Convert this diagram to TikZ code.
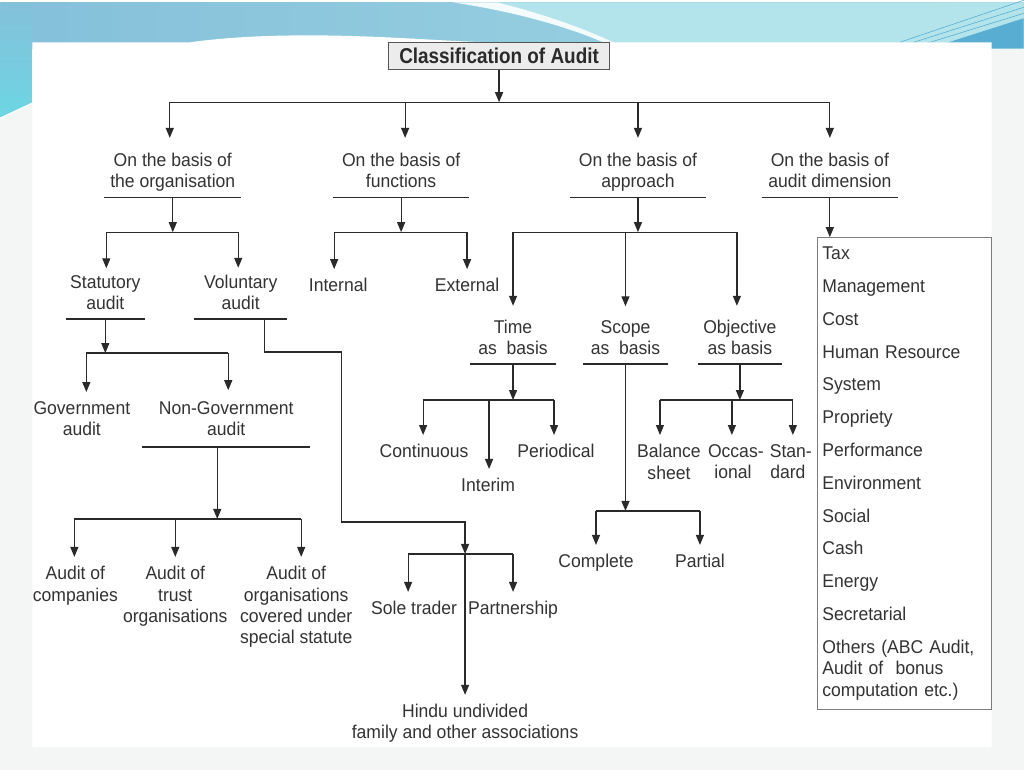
\documentclass[tikz,border=0pt]{standalone}
\usepackage{fontspec}
\setmainfont{Liberation Sans}[FakeStretch=0.95]
\newfontfamily\headfont{Liberation Sans}[FakeStretch=0.88]
\usetikzlibrary{arrows.meta,positioning}

\definecolor{ink}{HTML}{2A2A2A}
\definecolor{txt}{HTML}{333333}
\definecolor{frame}{HTML}{555555}
\definecolor{listframe}{HTML}{7C7C7C}
\definecolor{headfill}{HTML}{ECECEC}
\definecolor{pagebg}{HTML}{F4F5F5}
\definecolor{skyA}{HTML}{84C0DA}
\definecolor{skyB}{HTML}{A2D7E4}
\definecolor{skyC}{HTML}{B4E4EB}
\definecolor{skyD}{HTML}{58AED2}
\definecolor{cyanL}{HTML}{6DD6E2}

\tikzset{
  lbl/.style={font=\fontsize{18.5}{21.5}\selectfont, text=txt, align=center,
    inner xsep=0pt, inner ysep=9pt},
  basis/.style={lbl, anchor=south, text depth=0pt},
  leaf/.style={lbl, anchor=north},
  headbox/.style={draw=frame, fill=headfill, line width=1pt, minimum width=222pt,
    minimum height=27pt, inner sep=0pt, text=ink,
    font=\headfont\bfseries\fontsize{21.5}{22}\selectfont},
  dimlist/.style={draw=listframe, line width=1.2pt, anchor=north west,
    text width=164pt, inner xsep=5pt, inner ysep=0pt, minimum height=472pt,
    align=left, text=txt, font=\fontsize{18.5}{21.5}\selectfont},
  wire/.style={draw=ink, line width=1.2pt},
  arr/.style={wire, -{Triangle[length=10pt,width=8pt]}},
}

\begin{document}
\begin{tikzpicture}[x=1pt,y=-1pt]
  % backdrop
  \fill[pagebg] (0,0) rectangle (1024,768);
  \shade[left color=skyA, right color=skyB] (0,0) rectangle (1024,46);
  \fill[skyC] (497,0) .. controls (545,12) and (590,28) .. (626,46) -- (1024,46) -- (1024,0) -- cycle;
  \fill[white!85!skyC] (452,0) .. controls (520,10) and (580,28) .. (616,46) -- (626,46)
    .. controls (590,28) and (545,12) .. (497,0) -- cycle;
  \shade[top color=skyA, bottom color=cyanL] (0,0) -- (32,0) -- (32,100) -- (0,115) -- cycle;
  \draw[white, line width=0.8pt] (0,116) -- (32,101);
  \fill[skyD] (930,46) -- (1024,16) -- (1024,46) -- cycle;
  \draw[skyD, line width=0.6pt] (900,40) -- (1024,-2) (914,40) -- (1024,5) (924,42) -- (1024,11);
  \fill[white] (32,40) -- (190,40) .. controls (240,33) and (300,32) .. (360,34)
    .. controls (420,36) and (460,40) .. (500,40) -- (992,40) -- (992,745) -- (32,745) -- cycle;

  \node[headbox] (head) at (499,53.5) {Classification of Audit};

  \node[basis, minimum width=137pt] (org) at (172.5,195) {On the basis of\\the organisation};
  \node[basis, minimum width=136pt] (fun) at (401,195) {On the basis of\\functions};
  \node[basis, minimum width=136pt] (app) at (638,195) {On the basis of\\approach};
  \node[basis, minimum width=136pt] (dim) at (830,195) {On the basis of\\audit dimension};

  \node[basis, minimum width=78pt] (stat) at (105,317) {Statutory\\audit};
  \node[basis, minimum width=93pt] (vol) at (240.5,317) {Voluntary\\audit};
  \node[leaf] (int) at (338,267) {Internal};
  \node[leaf] (ext) at (467,267) {External};
  \node[basis, minimum width=85pt] (time) at (513,362) {Time\\as\ \ basis};
  \node[basis, minimum width=85pt] (scope) at (625.5,362) {Scope\\as\ \ basis};
  \node[basis, minimum width=84pt] (obj) at (740,362) {Objective\\as basis};

  \node[leaf] (gov) at (81.5,390) {Government\\audit};
  \node[basis, minimum width=168pt, inner ysep=11pt] (nongov) at (226,445) {Non-Government\\audit};

  \node[leaf] (cont) at (424,433) {Continuous};
  \node[leaf] (inter) at (488,467) {Interim};
  \node[leaf] (peri) at (556,433) {Periodical};
  \node[leaf] (bal) at (669,433) {Balance\\sheet};
  \node[leaf] (occ) at (733,433) {Occas\rlap{-}\\ional};
  \node[leaf] (std) at (788,433) {Stan\rlap{-}\\dard};
  \node[leaf] (compl) at (596,543) {Complete};
  \node[leaf] (partial) at (700,543) {Partial};

  \node[leaf] (comp) at (75,555) {Audit of\\companies};
  \node[leaf] (trust) at (175,555) {Audit of\\trust\\organisations};
  \node[leaf] (spec) at (296,555) {Audit of\\organisations\\covered under\\special statute};
  \node[leaf] (sole) at (414,590) {Sole trader};
  \node[leaf] (part) at (513,590) {Partnership};
  \node[leaf] (huf) at (465,693) {Hindu undivided\\family and other associations};

  \node[dimlist] (list) at (817,235) {Tax\\[11.3pt]Management\\[11.3pt]Cost\\[11.3pt]Human Resource\\[11.3pt]System\\[11.3pt]Propriety\\[11.3pt]Performance\\[11.3pt]Environment\\[11.3pt]Social\\[11.3pt]Cash\\[11.3pt]Energy\\[11.3pt]Secretarial\\[11.3pt]Others (ABC Audit,\\Audit of\ \ bonus\\computation etc.)};

  \foreach \n in {org,fun,app,dim,stat,vol,time,scope,obj,nongov}
    \draw[wire] (\n.south west) -- (\n.south east);

  % bus levels
  \coordinate (y0) at (0,100);
  \coordinate (y1) at (0,230);
  \coordinate (y2) at (0,351);
  \coordinate (y5) at (0,398);
  \coordinate (y6) at (0,509);
  \coordinate (y3) at (0,517);
  \coordinate (y4) at (0,552);

  \draw[arr] (head) -- (head |- y0);
  \draw[wire] ([xshift=-3pt]org.north |- y0) -- (dim.north |- y0);
  \foreach \n/\d in {org/-3,fun/4,app/0,dim/0}
    \draw[arr] ([xshift=\d pt]\n.north |- y0) -- ([xshift=\d pt,yshift=6pt]\n.north);

  \draw[arr] (org.south) -- (org.south |- y1);
  \draw[wire] ([xshift=1pt]stat.north |- y1) -- ([xshift=-2.5pt]vol.north |- y1);
  \foreach \n/\d in {stat/1,vol/-2.5}
    \draw[arr] ([xshift=\d pt]\n.north |- y1) -- ([xshift=\d pt,yshift=-2pt]\n.north);

  \draw[arr] (fun.south) -- (fun.south |- y1);
  \draw[wire] ([xshift=-4pt]int.north |- y1) -- (ext.north |- y1);
  \foreach \n/\d in {int/-4,ext/0}
    \draw[arr] ([xshift=\d pt]\n.north |- y1) -- ([xshift=\d pt]\n.north);

  \draw[arr] (app.south) -- (app.south |- y1);
  \draw[wire] (time.north |- y1) -- ([xshift=-3pt]obj.north |- y1);
  \foreach \n/\d in {time/0,scope/0,obj/-3}
    \draw[arr] ([xshift=\d pt]\n.north |- y1) -- ([xshift=\d pt,yshift=5pt]\n.north);

  \draw[arr] (dim.south) -- (dim.south |- list.north);

  \draw[arr] (stat.south) -- (stat.south |- y2);
  \draw[wire] ([xshift=4.5pt]gov.north |- y2) -- ([xshift=2pt]nongov.north |- y2);
  \foreach \n/\d in {gov/4.5,nongov/2}
    \draw[arr] ([xshift=\d pt]\n.north |- y2) -- ([xshift=\d pt]\n.north);

  \draw[arr] ([xshift=-9pt]nongov.south) -- ([xshift=-9pt]nongov.south |- y3);
  \draw[wire] ([xshift=-1pt]comp.north |- y3) -- ([xshift=5pt]spec.north |- y3);
  \foreach \n/\d in {comp/-1,trust/0,spec/5}
    \draw[arr] ([xshift=\d pt]\n.north |- y3) -- ([xshift=\d pt]\n.north);

  \coordinate (v1) at (341,350);
  \coordinate (v2) at (465,520);
  \draw[arr] ([xshift=23.5pt]vol.south) |- (v1) |- (v2) -- (v2 |- y4);
  \draw[wire] ([xshift=-6pt]sole.north |- y4) -- (part.north |- y4);
  \foreach \n/\d in {sole/-6,part/0}
    \draw[arr] ([xshift=\d pt]\n.north |- y4) -- ([xshift=\d pt]\n.north);
  \draw[arr] (v2 |- y4) -- (huf.north);

  \draw[arr] (time.south) -- (time.south |- y5);
  \draw[wire] ([xshift=-1pt]cont.north |- y5) -- ([xshift=-2pt]peri.north |- y5);
  \foreach \n/\d in {cont/-1,inter/1,peri/-2}
    \draw[arr] ([xshift=\d pt]\n.north |- y5) -- ([xshift=\d pt]\n.north);

  \draw[arr] (scope.south) -- (scope.south |- y6);
  \draw[wire] (compl.north |- y6) -- (partial.north |- y6);
  \foreach \n in {compl,partial}
    \draw[arr] (\n.north |- y6) -- (\n.north);

  \draw[arr] (obj.south) -- (obj.south |- y5);
  \draw[wire] ([xshift=-9pt]bal.north |- y5) -- ([xshift=5pt]std.north |- y5);
  \foreach \n/\d in {bal/-9,occ/-1,std/5}
    \draw[arr] ([xshift=\d pt]\n.north |- y5) -- ([xshift=\d pt]\n.north);
\end{tikzpicture}
\end{document}
